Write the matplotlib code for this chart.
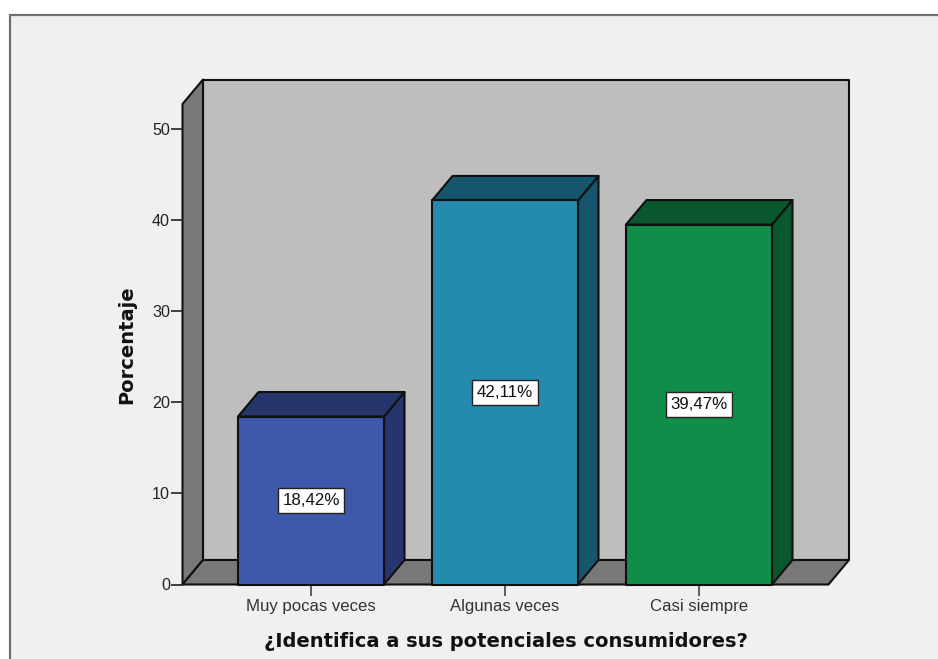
import matplotlib
matplotlib.use("Agg")
import matplotlib.pyplot as plt
from matplotlib.patches import Polygon, Rectangle

categories = ["Muy pocas veces", "Algunas veces", "Casi siempre"]
percentages = [18.42, 42.11, 39.47]
value_labels = ["18,42%", "42,11%", "39,47%"]
y_ticks = [0, 10, 20, 30, 40, 50]
front_colors = ["#3E58AC", "#248BAE", "#0F8D49"]
side_colors = ["#26356B", "#15566C", "#08572D"]

W, H = 938, 659
EDGE = "#101010"

plt.rcParams["font.family"] = "Liberation Sans"
fig = plt.figure(figsize=(W / 100, H / 100), dpi=100, facecolor="white")

# grey panel with its dark border, running off the right and bottom edges
fig.add_artist(Rectangle((9.5 / W, -0.01), 1.0, (H - 15) / H + 0.01, transform=fig.transFigure,
                         facecolor="#F0F0F0", edgecolor="#707070", linewidth=1.6, zorder=-1))

# axes box is the front plane of the 3D frame
left, right, top, bottom = 182.5, 828.5, 104.0, 584.5
ax = fig.add_axes([left / W, 1 - bottom / H, (right - left) / W, (bottom - top) / H])
ax.patch.set_visible(False)

px_per_cat = 194.0
px_per_unit = 9.12
ax.set_xlim((left - 311.0) / px_per_cat, (right - 311.0) / px_per_cat)
ax.set_ylim(0, (bottom - top) / px_per_unit)
x0, x1 = ax.get_xlim()
y0, y1 = ax.get_ylim()

# depth of the 3D effect, in data units
dx = 20.5 / px_per_cat
dy = 24.5 / px_per_unit
bar_w = 146.0 / px_per_cat


def poly(points, color, z=1):
    ax.add_patch(Polygon(points, closed=True, facecolor=color, edgecolor=EDGE,
                         linewidth=1.5, joinstyle="round", zorder=z, clip_on=False))


# back wall, left wall, floor
poly([(x0 + dx, y0 + dy), (x1 + dx, y0 + dy), (x1 + dx, y1 + dy), (x0 + dx, y1 + dy)], "#BEBEBE")
poly([(x0, y0), (x0 + dx, y0 + dy), (x0 + dx, y1 + dy), (x0, y1)], "#787878")
poly([(x0, y0), (x1, y0), (x1 + dx, y0 + dy), (x0 + dx, y0 + dy)], "#787878")

for i, val in enumerate(percentages):
    l, r = i - bar_w / 2, i + bar_w / 2
    poly([(r, 0), (r + dx, dy), (r + dx, val + dy), (r, val)], side_colors[i], 2)
    poly([(l, val), (r, val), (r + dx, val + dy), (l + dx, val + dy)], side_colors[i], 2)
    poly([(l, 0), (r, 0), (r, val), (l, val)], front_colors[i], 3)
    ax.text(i, val / 2, value_labels[i], ha="center", va="center", fontsize=12.2, color="#111111", zorder=4,
            bbox=dict(boxstyle="square,pad=0.28", facecolor="white", edgecolor="#222222", linewidth=1.0))

for side in ax.spines:
    ax.spines[side].set_visible(False)

ax.set_yticks(y_ticks)
ax.set_xticks(range(len(categories)))
ax.set_xticklabels(categories)
ax.tick_params(axis="y", length=8.5, width=1.2, color="#222222", labelsize=11.6, labelcolor="#222222", pad=0.5)
ax.tick_params(axis="x", length=8, width=1.2, color="#444444", labelsize=12.1, labelcolor="#333333", pad=2.5)

ax.set_xlabel("¿Identifica a sus potenciales consumidores?", fontsize=14, fontweight="bold",
              family="DejaVu Sans", color="#111111", labelpad=13)
ax.set_ylabel("Porcentaje", fontsize=14, fontweight="bold", family="DejaVu Sans", color="#111111", labelpad=11)

fig.savefig("out.png", dpi=100)
